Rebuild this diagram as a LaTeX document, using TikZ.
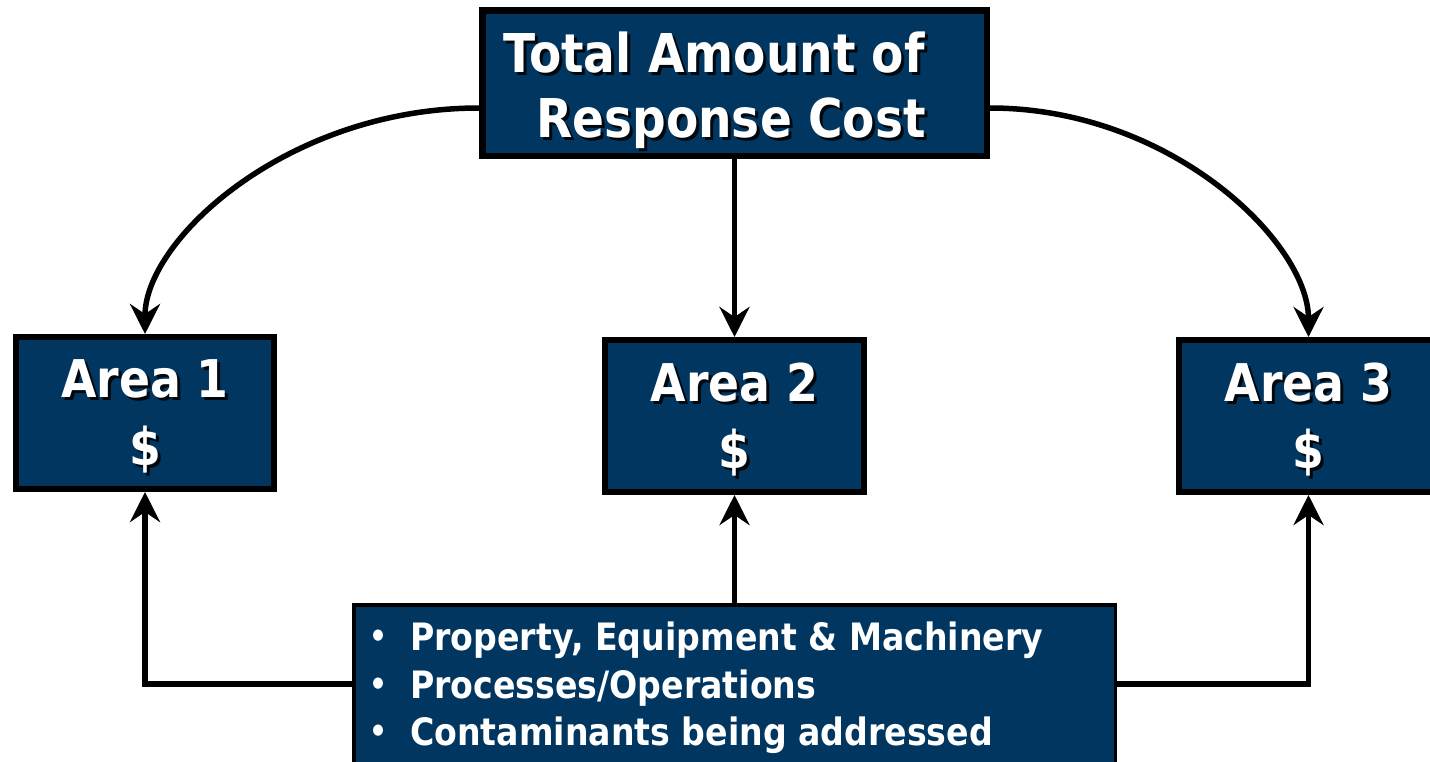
\documentclass[tikz,border=0pt]{standalone}
\usepackage{fontspec}
\setmainfont{DejaVu Sans}[FakeStretch=0.88]
\usetikzlibrary{arrows.meta}
\definecolor{boxfill}{RGB}{0,54,96}
\definecolor{shadowcol}{RGB}{0,8,14}
\tikzset{
  panel/.style={draw=black, fill=boxfill, line width=6pt, inner sep=0pt},
  listpanel/.style={draw=black, fill=boxfill, line width=3.5pt, inner sep=0pt},
  conn/.style={line width=5.5pt, -{Stealth[length=30pt,width=30pt,inset=10pt]}},
  lbl/.style={text=white, inner sep=0pt, anchor=base},
  bigtext/.style={font=\bfseries\fontsize{53.5}{60}\selectfont},
  areatext/.style={font=\bfseries\fontsize{52}{56}\selectfont},
  listtext/.style={font=\bfseries\fontsize{37.7}{42}\selectfont},
  dottext/.style={font=\bfseries\fontsize{32}{36}\selectfont},
}
% white text over a dark drop shadow set slightly down and to the right
\newcommand\dropshadowed[1]{\leavevmode
  \rlap{\kern3pt\raisebox{-3pt}{\textcolor{shadowcol}{#1}}}#1}
\begin{document}
\begin{tikzpicture}[x=1pt, y=-1pt]
\useasboundingbox (0,0) rectangle (1430,761);
\clip (0,0) rectangle (1430,761);

% boxes
\node[panel, line width=6.5pt, minimum width=504.5pt, minimum height=145.5pt] (top) at (734.5,83) {};
\node[panel, minimum width=258pt, minimum height=152pt] (a1) at (145,413) {};
\node[panel, minimum width=259pt, minimum height=152pt] (a2) at (734.5,416) {};
\node[panel, minimum width=259pt, minimum height=152pt] (a3) at (1308.5,416) {};
\node[listpanel, minimum width=761.5pt, minimum height=158.5pt] (src) at (734.5,684) {};

% title
\node[lbl, bigtext] (t1) at (714,72) {\dropshadowed{Total Amount of}};
\node[lbl, bigtext] (t2) at (731,137) {\dropshadowed{Response Cost}};

% area labels
\node[lbl, areatext] (a1t) at (145,397) {\dropshadowed{Area 1}};
\node[lbl, areatext] (a1d) at (145,465) {\dropshadowed{\$}};
\node[lbl, areatext] (a2t) at (734.5,401) {\dropshadowed{Area 2}};
\node[lbl, areatext] (a2d) at (734.5,468) {\dropshadowed{\$}};
\node[lbl, areatext] (a3t) at (1308.5,401) {\dropshadowed{Area 3}};
\node[lbl, areatext] (a3d) at (1308.5,468) {\dropshadowed{\$}};

% bullet list
\node[lbl, dottext] (b1) at (378,647) {•};
\node[lbl, dottext] (b2) at (378,695) {•};
\node[lbl, dottext] (b3) at (378,742) {•};
\node[lbl, listtext, anchor=base west] (l1) at (410,650) {Property, Equipment \& Machinery};
\node[lbl, listtext, anchor=base west] (l2) at (410,698) {Processes/Operations};
\node[lbl, listtext, anchor=base west] (l3) at (410,745) {Contaminants being addressed};

% connectors from the total
\draw[conn] ([yshift=-25pt]top.west) .. controls +(-190,0) and +(0,-95) .. (a1.north);
\draw[conn] (top.south) -- (a2.north);
\draw[conn] ([yshift=-25pt]top.east) .. controls +(180,0) and +(0,-95) .. (a3.north);

% connectors from the list
\draw[conn] (src.west) -| (a1.south);
\draw[conn] (src.north) -- (a2.south);
\draw[conn] (src.east) -| (a3.south);
\end{tikzpicture}
\end{document}
